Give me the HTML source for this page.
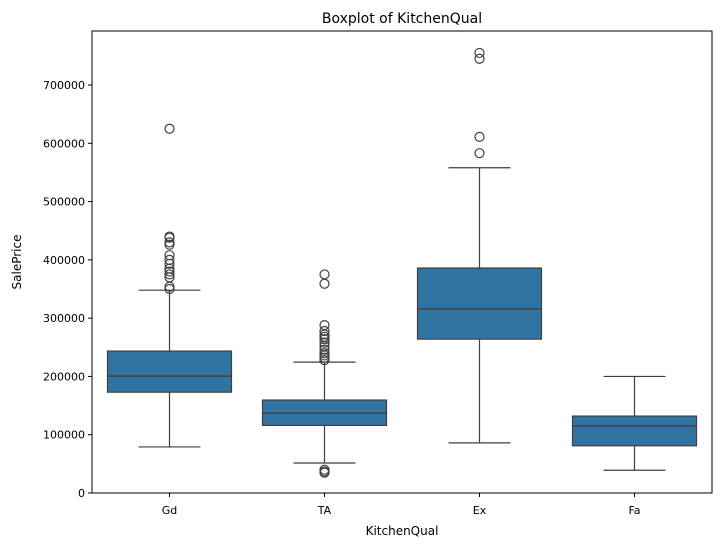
<!DOCTYPE html>
<html><head><meta charset="utf-8"><style>
body{margin:0;background:#fff;}
svg{display:block;font-family:"DejaVu Sans","Liberation Sans",sans-serif;}
</style></head><body>
<svg id="chart" width="721" height="547">
<text x="402" y="23" font-size="14" text-anchor="middle">Boxplot of KitchenQual</text>
<text x="402" y="535" font-size="12" text-anchor="middle">KitchenQual</text>
<text x="21" y="262" font-size="12" text-anchor="middle" transform="rotate(-90 21 262)">SalePrice</text>
<g id="plot"></g>
<rect x="92" y="31" width="620" height="462" fill="none" stroke="#000" stroke-width="1"/>
</svg>
<script>
const categories=["Gd","TA","Ex","Fa"];
const q1=[173000,116000,264000,81000];
const median=[200500,137000,316000,115000];
const q3=[243500,159500,386000,132000];
const whiskLo=[79000,51500,86000,39000];
const whiskHi=[348000,224500,558000,200000];
const outliers=[
 [625000,440000,438000,430000,426000,408000,400000,393000,385000,380000,375000,370000,354000,350000],
 [375000,359000,288000,278000,272000,268000,264000,258000,252000,246000,240000,236000,232000,228000,40000,37000,35000],
 [755000,745000,611000,583000],
 []
];
const yTicks=[0,100000,200000,300000,400000,500000,600000,700000];
const L=92,R=712,T=31,B=493;
const y=v=>B-v*(B-85)/700000;
const band=(R-L)/categories.length;
const x=i=>L+band*(i+0.5);
const g=document.getElementById('plot');
const NS="http://www.w3.org/2000/svg";
function mk(t,a){const e=document.createElementNS(NS,t);for(const k in a)e.setAttribute(k,a[k]);g.appendChild(e);return e;}
yTicks.forEach(v=>{
 const l=mk('line',{x1:L-4,x2:L,y1:y(v),y2:y(v),stroke:'#000'});
 
 
 const t=mk('text',{x:L-7,y:y(v)+4,'font-size':11,'text-anchor':'end'});t.textContent=v;
 
 
});
const col='#3f3f3f',bw=band*0.8,cw=bw*0.5;
categories.forEach((c,i)=>{
 const cx=x(i);
 const tk=mk('line',{x1:cx,x2:cx,y1:B,y2:B+4,stroke:'#000'});
 
 
 const tl=mk('text',{x:cx,y:B+21,'font-size':11,'text-anchor':'middle'});tl.textContent=c;
 
 
 const w=mk('line',{x1:cx,x2:cx,y1:y(whiskLo[i]),y2:y(whiskHi[i]),stroke:col,'stroke-width':1.2});
 
 
 [whiskLo[i],whiskHi[i]].forEach(v=>{
  const cap=mk('line',{x1:cx-cw/2,x2:cx+cw/2,y1:y(v),y2:y(v),stroke:col,'stroke-width':1.2});
  
  
 });
 const b=mk('rect',{x:cx-bw/2,y:y(q3[i]),width:bw,height:y(q1[i])-y(q3[i]),fill:'#3274a1',stroke:col,'stroke-width':1.2});
 
 
 const m=mk('line',{x1:cx-bw/2,x2:cx+bw/2,y1:y(median[i]),y2:y(median[i]),stroke:col,'stroke-width':1.4});
 
 
 outliers[i].forEach(v=>{
  const o=mk('circle',{cx:cx,cy:y(v),r:4.5,fill:'none',stroke:col,'stroke-width':1.2});
  
  
 });
});
</script>
</body></html>
